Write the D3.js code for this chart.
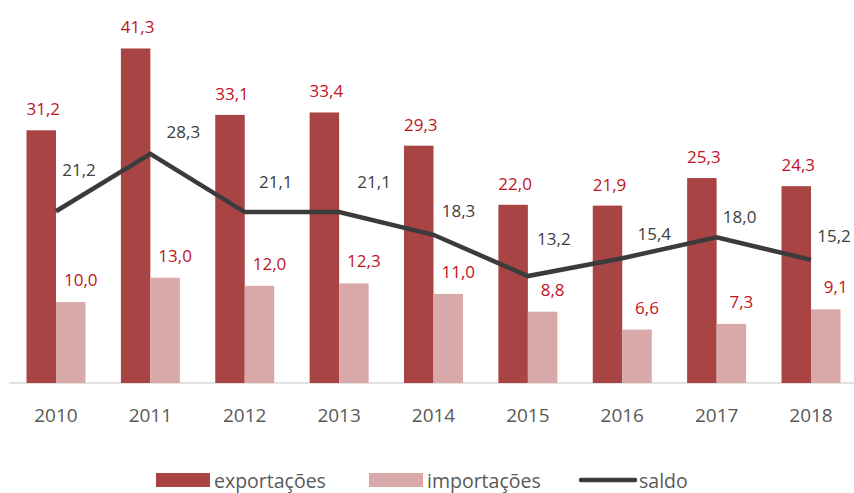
<!DOCTYPE html>
<html>
<head>
<meta charset="utf-8">
<script src="https://cdn.jsdelivr.net/npm/d3@7/dist/d3.min.js"></script>
<style>
  html, body { margin: 0; padding: 0; background: #ffffff; }
  svg { display: block; font-family: "Open Sans", "Noto Sans", sans-serif; }
</style>
</head>
<body>
<svg id="chart" width="854" height="493"></svg>
<script>
// Trade balance by year (values in billions)
const years = ["2010", "2011", "2012", "2013", "2014", "2015", "2016", "2017", "2018"];
const exportacoes = [31.2, 41.3, 33.1, 33.4, 29.3, 22.0, 21.9, 25.3, 24.3];
const importacoes = [10.0, 13.0, 12.0, 12.3, 11.0, 8.8, 6.6, 7.3, 9.1];
const saldo = [21.2, 28.3, 21.1, 21.1, 18.3, 13.2, 15.4, 18.0, 15.2];
const legendLabels = ["exportações", "importações", "saldo"];

// Hand-placed offsets (px) for the balance labels, relative to each line vertex
const saldoLabelShift = [[23, -35], [33, -16], [31, -24], [35, -24], [25, -18], [26, -31], [32, -18], [23, -14], [23, -18]];

const colors = {
  exp: "#A84444",
  imp: "#D9A8A9",
  line: "#3B3B3B",
  redText: "#C0141E",
  darkText: "#404040",
  axisText: "#595959",
  axis: "#D9D9D9"
};

const fmt = v => d3.format(".1f")(v).replace(".", ",");

const svg = d3.select("#chart");

const x = d3.scaleBand()
  .domain(years)
  .range([8.8, 858.2])
  .paddingInner(0.375)
  .paddingOuter(0.1875);

const y = d3.scaleLinear()
  .domain([0, 45])
  .range([383, 383 - 45 * 8.1]);

const bw = x.bandwidth() / 2;

// Baseline
svg.append("line")
  .attr("x1", 9).attr("x2", 854)
  .attr("y1", y(0)).attr("y2", y(0))
  .attr("stroke", colors.axis)
  .attr("stroke-width", 1.5);

// Year labels
const xAxis = d3.axisBottom(x).tickSize(0).tickPadding(0);
const gx = svg.append("g")
  .attr("transform", `translate(0,${y(0)})`)
  .call(xAxis);
gx.select(".domain").remove();
gx.selectAll("text")
  .attr("dy", null)
  .attr("y", 39)
  .attr("font-size", 19)
  .attr("font-family", "'Open Sans', sans-serif")
  .attr("fill", colors.axisText);

// Export bars
svg.append("g").selectAll("rect")
  .data(exportacoes)
  .join("rect")
  .attr("x", (d, i) => x(years[i]))
  .attr("y", d => y(d))
  .attr("width", bw)
  .attr("height", d => y(0) - y(d))
  .attr("fill", colors.exp);

// Import bars
svg.append("g").selectAll("rect")
  .data(importacoes)
  .join("rect")
  .attr("x", (d, i) => x(years[i]) + bw)
  .attr("y", d => y(d))
  .attr("width", bw)
  .attr("height", d => y(0) - y(d))
  .attr("fill", colors.imp);

// Balance line through the middle of each year group
const cx = i => x(years[i]) + bw;
const line = d3.line()
  .x((d, i) => cx(i))
  .y(d => y(d));

svg.append("path")
  .datum(saldo)
  .attr("d", line)
  .attr("fill", "none")
  .attr("stroke", colors.line)
  .attr("stroke-width", 4.5)
  .attr("stroke-linejoin", "miter");

// Value labels
const labelFont = 17;

svg.append("g").selectAll("text")
  .data(exportacoes)
  .join("text")
  .attr("x", (d, i) => x(years[i]) + bw / 2 + 2)
  .attr("y", d => y(d) - 15)
  .attr("text-anchor", "middle")
  .attr("font-size", labelFont)
  .attr("fill", colors.redText)
  .text(fmt);

svg.append("g").selectAll("text")
  .data(importacoes)
  .join("text")
  .attr("x", (d, i) => x(years[i]) + bw * 1.5 + 10)
  .attr("y", d => y(d) - 16)
  .attr("text-anchor", "middle")
  .attr("font-size", labelFont)
  .attr("fill", colors.redText)
  .text(fmt);

svg.append("g").selectAll("text")
  .data(saldo)
  .join("text")
  .attr("x", (d, i) => cx(i) + saldoLabelShift[i][0])
  .attr("y", (d, i) => y(d) + saldoLabelShift[i][1])
  .attr("text-anchor", "middle")
  .attr("font-size", labelFont)
  .attr("fill", colors.darkText)
  .text(fmt);

// Legend
const legend = svg.append("g").attr("font-size", 19.5).attr("fill", colors.axisText);
const legendItems = [
  { label: legendLabels[0], type: "rect", color: colors.exp, x: 156 },
  { label: legendLabels[1], type: "rect", color: colors.imp, x: 369 },
  { label: legendLabels[2], type: "line", color: colors.line, x: 581 }
];
legendItems.forEach(item => {
  if (item.type === "rect") {
    legend.append("rect")
      .attr("x", item.x).attr("y", 473)
      .attr("width", 54).attr("height", 14)
      .attr("fill", item.color);
  } else {
    legend.append("line")
      .attr("x1", item.x).attr("x2", item.x + 54)
      .attr("y1", 480).attr("y2", 480)
      .attr("stroke", item.color)
      .attr("stroke-width", 4.5)
      .attr("stroke-linecap", "round");
  }
  legend.append("text")
    .attr("x", item.x + 58)
    .attr("y", 488)
    .attr("fill", colors.axisText)
    .text(item.label);
});
</script>
</body>
</html>
